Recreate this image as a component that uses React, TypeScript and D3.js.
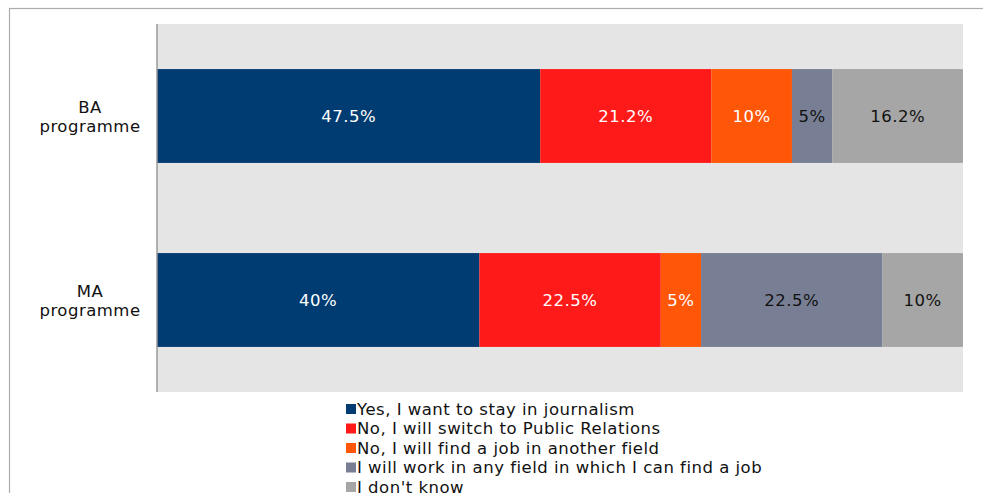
import React from "react";
import * as d3 from "d3";

const categories = ["BA programme", "MA programme"];
const seriesNames = [
  "Yes, I want to stay in journalism",
  "No, I will switch to Public Relations",
  "No, I will find a job in another field",
  "I will work in any field in which I can find a job",
  "I don't know",
];
const baValues = [47.5, 21.2, 10, 5, 16.2];
const maValues = [40, 22.5, 5, 22.5, 10];
const seriesColors = ["#003b71", "#ff1a1a", "#ff5608", "#787f94", "#a6a6a6"];
const labelColors = ["#ffffff", "#ffffff", "#ffffff", "#111111", "#111111"];

const W = 983;
const H = 493;
const FONT = "'DejaVu Sans', Verdana, sans-serif";
const FS = 16.5;
const LS = 0.5;

export default function App() {
  const plot = { left: 157, right: 963, top: 24, bottom: 392 };
  const x = d3.scaleLinear().domain([0, 1]).range([plot.left, plot.right]);
  const y = d3
    .scaleBand<string>()
    .domain(categories)
    .range([plot.top, plot.bottom])
    .paddingInner(0.49)
    .paddingOuter(0.245);

  const rows = [baValues, maValues].map((vals, ci) => {
    const total = d3.sum(vals);
    const stack = d3.cumsum(vals);
    return vals.map((v, si) => ({
      cat: categories[ci],
      si,
      v,
      x0: (stack[si] - v) / total,
      x1: stack[si] / total,
    }));
  });

  return (
    <svg
      width={W}
      height={H}
      style={{ position: "absolute", left: 0, top: 0, fontFamily: FONT, letterSpacing: LS }}
    >
      <rect x={0} y={0} width={W} height={H} fill="#ffffff" />
      <rect x={9.5} y={8.5} width={2000} height={2000} fill="none" stroke="#ababab" strokeWidth={1.2} />
      <rect
        x={plot.left}
        y={plot.top}
        width={plot.right - plot.left}
        height={plot.bottom - plot.top}
        fill="#e5e5e5"
      />
      {rows.map((segs, ci) =>
        segs.map((s) => {
          const bx0 = x(s.x0);
          const bx1 = x(s.x1);
          const by = y(s.cat)!;
          const bh = y.bandwidth();
          return (
            <g key={`${ci}-${s.si}`}>
              <rect x={bx0} y={by} width={bx1 - bx0} height={bh} fill={seriesColors[s.si]} />
              <text
                x={(bx0 + bx1) / 2}
                y={by + bh / 2}
                dy="0.36em"
                textAnchor="middle"
                fontSize={FS}
                fill={labelColors[s.si]}
              >
                {`${s.v}%`}
              </text>
            </g>
          );
        })
      )}
      <line x1={plot.left} x2={plot.left} y1={plot.top} y2={plot.bottom} stroke="#9a9a9a" strokeWidth={1.5} />
      {categories.map((c) => {
        const cy = y(c)! + y.bandwidth() / 2;
        const parts = c.split(" ");
        return (
          <text key={c} x={90} y={cy} textAnchor="middle" fontSize={FS} fill="#111">
            <tspan x={90} dy="-0.2em">{parts[0]}</tspan>
            <tspan x={90} dy="1.18em">{parts[1]}</tspan>
          </text>
        );
      })}
      {seriesNames.map((n, i) => {
        const ly = 409 + i * 19.5;
        return (
          <g key={n}>
            <rect x={346} y={ly - 5} width={10} height={10} fill={seriesColors[i]} />
            <text x={357} y={ly} dy="0.36em" fontSize={FS} fill="#111">
              {n}
            </text>
          </g>
        );
      })}
    </svg>
  );
}
